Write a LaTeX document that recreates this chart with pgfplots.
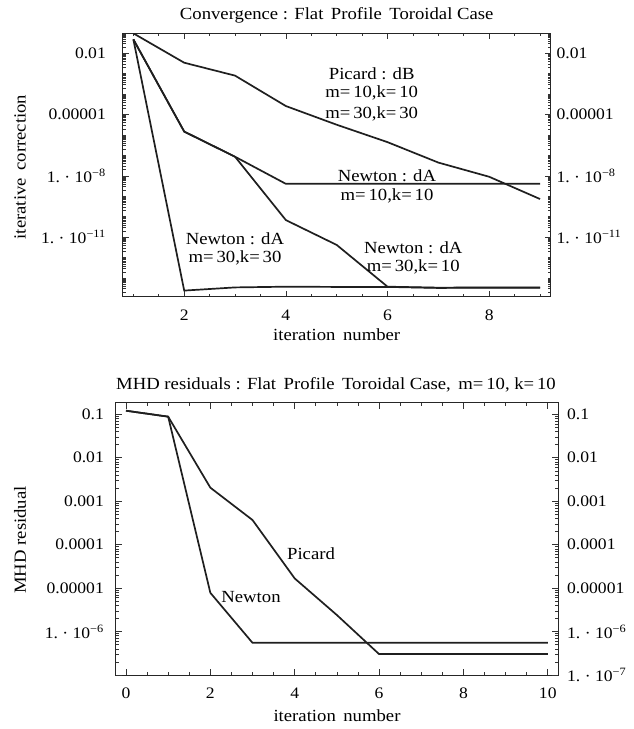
\documentclass[border=0pt]{standalone}
\usepackage{fontspec}
\setmainfont{Liberation Serif}[FakeStretch=1.1]
\usepackage{pgfplots}
\pgfplotsset{compat=1.18}

% minor log ticks (every decade, 1..9)
\def\topminor{}
\foreach \e in {-14,...,-2}{\foreach \m in {1,...,9}{\xdef\topminor{\topminor\m e\e,}}}
\xdef\topminor{\topminor 1e-1}
\def\botminor{}
\foreach \e in {-7,...,-1}{\foreach \m in {1,...,9}{\xdef\botminor{\botminor\m e\e,}}}
\xdef\botminor{\botminor 1e0}

\newcommand{\sci}[1]{1.~·~10\textsuperscript{−#1}}

\pgfplotsset{
  every axis/.append style={
    scale only axis,
    axis line style={line width=0.9pt, black!85},
    tick align=inside,
    major tick length=6pt,
    minor tick length=3pt,
    tick style={line width=0.6pt, black!80},
    tick label style={font=\fontsize{16}{18}\selectfont},
    xticklabel style={yshift=-7pt},
  },
}
\tikzset{curve/.style={line width=1.7pt, black!88}}

\begin{document}
\begin{tikzpicture}
\fontsize{17}{20}\selectfont

% ---------- top: convergence ----------
\begin{axis}[ymode=log,
  at={(122.7pt,432.3pt)}, anchor=south west,
  width=428pt, height=263.4pt,
  xmin=0.79, xmax=9.21, ymin=1.23e-14, ymax=0.0955,
  xtick={2,4,6,8}, xticklabels={2,4,6,8},
  minor xtick={1,1.5,...,9},
  ytick={1e-2,1e-5,1e-8,1e-11},
  yticklabels={0.01,0.00001,\sci{8},\sci{11}},
  extra y ticks={1e-2,1e-5,1e-8,1e-11},
  extra y tick labels={0.01,0.00001,\sci{8},\sci{11}},
  extra y tick style={yticklabel pos=right, yticklabel style={anchor=west, xshift=11pt}},
  minor ytick/.expand once=\topminor,
  yticklabel style={xshift=-11pt},
]
% Picard dB
\addplot[curve] coordinates {(1,0.095) (2,3.47e-3) (3,8.1e-4) (4,2.63e-5) (5,3.2e-6) (6,4.5e-7) (7,4.5e-8) (8,9.1e-9) (9,7.4e-10)};
% Newton dA m=10,k=10
\addplot[curve] coordinates {(1,0.048) (2,1.48e-6) (3,8.7e-8) (4,4.1e-9) (5,4.1e-9) (6,4.1e-9) (7,4.1e-9) (8,4.1e-9) (9,4.1e-9)};
% Newton dA m=30,k=10
\addplot[curve] coordinates {(1,0.048) (2,1.48e-6) (3,8.7e-8) (4,6.9e-11) (5,4.2e-12) (6,3.8e-14) (7,3.4e-14) (8,3.5e-14) (9,3.5e-14)};
% Newton dA m=30,k=30
\addplot[curve] coordinates {(1,0.048) (2,2.45e-14) (3,3.5e-14) (4,3.8e-14) (5,3.7e-14) (6,3.7e-14) (7,3.3e-14) (8,3.4e-14) (9,3.4e-14)};
\end{axis}

\node at (336.7pt,714pt) {Convergence : Flat\, Profile\, Toroidal Case};
\node at (336.7pt,394pt) {iteration\, number};
\node[rotate=90] at (20pt,562pt) {iterative\, correction};

\node at (371.7pt,655.7pt) {Picard : dB};
\node at (371.7pt,635.7pt) {m=\,10,k=\,10};
\node at (371.7pt,614.7pt) {m=\,30,k=\,30};
\node at (387pt,553pt) {Newton : dA};
\node at (387pt,533.3pt) {m=\,10,k=\,10};
\node at (235pt,490.7pt) {Newton : dA};
\node at (235pt,471.3pt) {m=\,30,k=\,30};
\node at (413.3pt,481.3pt) {Newton : dA};
\node at (413.3pt,461.7pt) {m=\,30,k=\,10};

% ---------- bottom: MHD residuals ----------
\begin{axis}[ymode=log,
  at={(115.7pt,54pt)}, anchor=south west,
  width=442.6pt, height=272.3pt,
  xmin=-0.244, xmax=10.25, ymin=1e-7, ymax=0.185,
  xtick={0,2,4,6,8,10}, xticklabels={0,2,4,6,8,10},
  minor xtick={0,0.5,...,10},
  ytick={1e-1,1e-2,1e-3,1e-4,1e-5,1e-6},
  yticklabels={0.1,0.01,0.001,0.0001,0.00001,\sci{6}},
  extra y ticks={1e-1,1e-2,1e-3,1e-4,1e-5,1e-6,1e-7},
  extra y tick labels={0.1,0.01,0.001,0.0001,0.00001,\sci{6},\sci{7}},
  extra y tick style={yticklabel pos=right, yticklabel style={anchor=west, xshift=9pt}},
  minor ytick/.expand once=\botminor,
  yticklabel style={xshift=-6pt},
]
% Picard
\addplot[curve] coordinates {(0,0.121) (1,0.0883) (2,2.05e-3) (3,3.69e-4) (4,1.67e-5) (5,2.4e-6) (6,3.03e-7) (7,3.03e-7) (8,3.03e-7) (9,3.03e-7) (10,3.03e-7)};
% Newton
\addplot[curve] coordinates {(0,0.121) (1,0.0883) (2,7.8e-6) (3,5.5e-7) (4,5.5e-7) (5,5.5e-7) (6,5.5e-7) (7,5.5e-7) (8,5.5e-7) (9,5.5e-7) (10,5.5e-7)};
\end{axis}

\node at (336pt,344pt) {MHD residuals : Flat\, Profile\, Toroidal Case,\, m=\,10, k=\,10};
\node at (337pt,13pt) {iteration\, number};
\node[rotate=90] at (20pt,189pt) {MHD residual};

\node at (311pt,175.7pt) {Picard};
\node at (251pt,131.7pt) {Newton};

\pgfresetboundingbox
\path[use as bounding box] (0,0) rectangle (634pt,729pt);
\end{tikzpicture}
\end{document}
